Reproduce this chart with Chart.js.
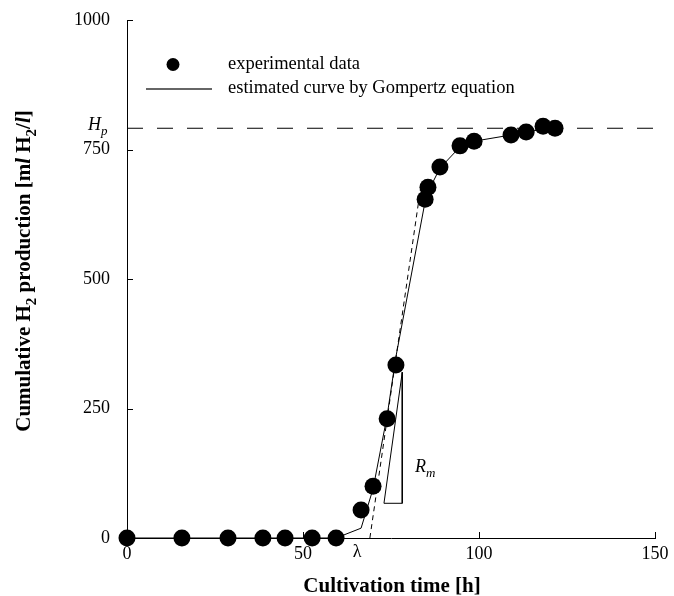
<!DOCTYPE html>
<html><head><meta charset="utf-8">
<script src="https://cdn.jsdelivr.net/npm/chart.js@4/dist/chart.umd.min.js"></script>
<style>html,body{margin:0;padding:0;background:#fff}#wrap{width:674px;height:596px}</style>
</head><body><div id="wrap"><canvas id="c"></canvas></div>
<script>
// ---- data ----
const timeH       = [0,15.6,28.7,38.6,44.9,52.6,59.4,66.5,69.9,73.9,76.4,84.7,85.5,88.9,94.6,98.6,109.1,113.4,118.2,121.6];
const h2Measured  = [0,0,0,0,0,0,0,54,100,230,334,654,677,716,757,766,778,784,795,791];
const h2Gompertz  = [0,0,0,0,0,0,0,19,95,236,350,650,668,714,755,766,778,784,789,791];
const hpX = [0,150];
const hpY = [791,791];
const tangentX = [69,83.5];
const tangentY = [0,680];
const triX = [78.2,78.2,73.0,78.2];
const triY = [320,67,67,320];
const xTicks = [0,50,100,150];
const yTicks = [0,250,500,750,1000];
const legendLabels = ['experimental data','estimated curve by Gompertz equation'];

const SERIF = "'Liberation Serif','Times New Roman',serif";
const toXY = (xs, ys) => xs.map((x,i)=>({x:x,y:ys[i]}));

function drawRich(ctx, parts, x, y, size, align){
  const sub = Math.round(size*0.7);
  const fontOf = p => (p.italic?'italic ':'') + (p.bold?'bold ':'') + (p.sub?sub:size) + 'px ' + SERIF;
  let total = 0;
  parts.forEach(p=>{ctx.font=fontOf(p); p.w=ctx.measureText(p.t).width; total+=p.w;});
  let cx = align==='center' ? x-total/2 : (align==='right' ? x-total : x);
  ctx.textAlign='left'; ctx.textBaseline='alphabetic';
  parts.forEach(p=>{ctx.font=fontOf(p); ctx.fillText(p.t, cx, y + (p.sub? size*0.28:0)); cx+=p.w;});
}

const decor = {
  id:'decor',
  afterDraw(chart){
    const ctx = chart.ctx, xs = chart.scales.x, ys = chart.scales.y, a = chart.chartArea;
    ctx.save();
    ctx.strokeStyle='#000'; ctx.fillStyle='#000'; ctx.lineWidth=1;
    // inward tick marks
    ctx.beginPath();
    yTicks.forEach(v=>{ if(v===0) return; const py=Math.round(ys.getPixelForValue(v))+0.5; ctx.moveTo(a.left,py); ctx.lineTo(a.left+6,py);});
    xTicks.forEach(v=>{ if(v===0) return; const px=Math.round(xs.getPixelForValue(v))+0.5; ctx.moveTo(px,a.bottom); ctx.lineTo(px,a.bottom-6);});
    ctx.stroke();
    // legend
    ctx.beginPath(); ctx.arc(173,64.5,6.5,0,Math.PI*2); ctx.fill();
    ctx.strokeStyle='#333'; ctx.lineWidth=1.5;
    ctx.beginPath(); ctx.moveTo(146,89); ctx.lineTo(212,89); ctx.stroke();
    ctx.strokeStyle='#000'; ctx.lineWidth=1;
    ctx.font = '18.5px '+SERIF; ctx.textAlign='left'; ctx.textBaseline='middle';
    ctx.fillText(legendLabels[0], 228, 64);
    ctx.fillText(legendLabels[1], 228, 88);
    // annotations
    drawRich(ctx,[{t:'H',italic:true},{t:'p',italic:true,sub:true}], 88, 130, 18, 'left');
    drawRich(ctx,[{t:'R',italic:true},{t:'m',italic:true,sub:true}], 415, 472, 18, 'left');
    ctx.font='18px '+SERIF; ctx.textAlign='center'; ctx.textBaseline='middle';
    ctx.fillText('\u03BB', 357, 552);
    // axis titles
    drawRich(ctx,[{t:'Cultivation time [h]',bold:true}], 392, 592, 21, 'center');
    ctx.translate(30, 271); ctx.rotate(-Math.PI/2);
    drawRich(ctx,[
      {t:'Cumulative H',bold:true},{t:'2',bold:true,sub:true},{t:' production [m',bold:true},
      {t:'l',bold:true,italic:true},{t:' H',bold:true},{t:'2',bold:true,sub:true},{t:'/',bold:true},
      {t:'l',bold:true,italic:true},{t:']',bold:true}], 0, 0, 21, 'center');
    ctx.restore();
  }
};

const lineDs = (data, dash) => ({data:data, showLine:true, borderColor:'#000', borderWidth:1, pointRadius:0, borderDash:dash||[], fill:false, tension:0});

new Chart(document.getElementById('c'), {
  type:'scatter',
  data:{datasets:[
    {data:toXY(timeH,h2Measured), showLine:false, pointRadius:8.5, pointBackgroundColor:'#000', pointBorderColor:'#000', pointBorderWidth:0, clip:false},
    lineDs(toXY(timeH,h2Gompertz)),
    lineDs(toXY(hpX,hpY),[16,14]),
    lineDs(toXY(tangentX,tangentY),[5,4]),
    lineDs(toXY(triX,triY))
  ]},
  options:{
    animation:false, responsive:true, maintainAspectRatio:false,
    layout:{padding:{top:20,right:19,left:0,bottom:0}},
    plugins:{legend:{display:false}, tooltip:{enabled:false}},
    scales:{
      x:{type:'linear', min:0, max:150,
        afterBuildTicks(s){ s.ticks = xTicks.map(v=>({value:v})); },
        ticks:{color:'#000', font:{family:SERIF,size:18}, padding:5, maxRotation:0, callback:v=>String(v)},
        grid:{display:true, drawOnChartArea:false, drawTicks:false},
        border:{color:'#000', width:1},
        afterFit(s){ s.height=58; s.paddingLeft=0; s.paddingRight=0; }},
      y:{type:'linear', min:0, max:1000,
        afterBuildTicks(s){ s.ticks = yTicks.map(v=>({value:v})); },
        ticks:{color:'#000', font:{family:SERIF,size:18}, padding:17, callback:v=>String(v)},
        grid:{display:true, drawOnChartArea:false, drawTicks:false},
        border:{color:'#000', width:1},
        afterFit(s){ s.width=127; s.paddingTop=0; s.paddingBottom=0; }}
    }
  },
  plugins:[decor]
});
</script>
</body></html>
